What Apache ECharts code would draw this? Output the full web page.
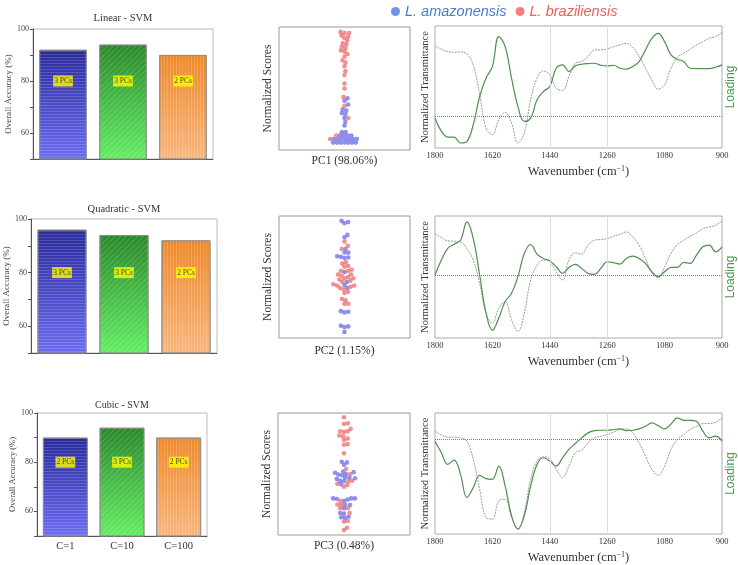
<!DOCTYPE html>
<html>
<head>
<meta charset="utf-8">
<title>SVM accuracy, PC scores and loadings</title>
<script src="https://cdn.jsdelivr.net/npm/echarts@6/dist/echarts.min.js"></script>
<style>html,body{margin:0;padding:0;background:#fff}#main{width:738px;height:565px}</style>
</head>
<body>
<div id="main"></div>
<script>
// ---- data ----
var categories = ['C=1', 'C=10', 'C=100'];
var accTicks = [60, 80, 100];
var modelTitles = ['Linear - SVM', 'Quadratic - SVM', 'Cubic - SVM'];
var linearAcc = [92, 94, 90];
var quadraticAcc = [96, 94, 92];
var cubicAcc = [90, 94, 90];
var linearPCs = ['3 PCs', '3 PCs', '2 PCs'];
var quadraticPCs = ['3 PCs', '3 PCs', '2 PCs'];
var cubicPCs = ['2 PCs', '3 PCs', '2 PCs'];

var pcNames = ['PC1 (98.06%)', 'PC2 (1.15%)', 'PC3 (0.48%)'];
// normalized scores (0 = bottom of box, 1 = top)
var pc1Amaz = [0.42, 0.40, 0.37, 0.33, 0.32, 0.30, 0.29, 0.26, 0.23, 0.20, 0.145, 0.145, 0.118, 0.118, 0.118, 0.118, 0.09, 0.09, 0.09, 0.09, 0.09, 0.09, 0.09, 0.06, 0.06, 0.06, 0.06, 0.06, 0.06, 0.06];
var pc1Braz = [0.96, 0.95, 0.95, 0.93, 0.92, 0.91, 0.89, 0.87, 0.86, 0.84, 0.83, 0.81, 0.80, 0.78, 0.76, 0.73, 0.71, 0.68, 0.64, 0.61, 0.54, 0.50, 0.43, 0.36, 0.26, 0.118, 0.09];
var pc2Amaz = [0.96, 0.95, 0.94, 0.845, 0.825, 0.73, 0.70, 0.70, 0.67, 0.665, 0.66, 0.655, 0.54, 0.46, 0.435, 0.41, 0.22, 0.215, 0.21, 0.10, 0.095, 0.09, 0.05];
var pc2Braz = [0.79, 0.755, 0.73, 0.62, 0.61, 0.59, 0.585, 0.56, 0.55, 0.55, 0.52, 0.52, 0.51, 0.50, 0.49, 0.49, 0.48, 0.47, 0.46, 0.44, 0.43, 0.43, 0.42, 0.41, 0.40, 0.38, 0.37, 0.32, 0.31, 0.28, 0.28];
var pc3Amaz = [0.60, 0.595, 0.575, 0.52, 0.515, 0.51, 0.50, 0.495, 0.49, 0.47, 0.47, 0.465, 0.46, 0.445, 0.44, 0.415, 0.30, 0.30, 0.30, 0.295, 0.29, 0.28, 0.25, 0.245, 0.22, 0.18, 0.175, 0.15, 0.145, 0.14];
var pc3Braz = [0.965, 0.915, 0.91, 0.87, 0.85, 0.85, 0.845, 0.815, 0.81, 0.79, 0.78, 0.745, 0.74, 0.67, 0.54, 0.50, 0.445, 0.44, 0.42, 0.41, 0.395, 0.28, 0.25, 0.25, 0.22, 0.22, 0.18, 0.115, 0.11, 0.06, 0.04];

var wavenumbers = [1800, 1780, 1760, 1740, 1720, 1700, 1680, 1660, 1640, 1620, 1600, 1580, 1560, 1540, 1520, 1500, 1480, 1460, 1440, 1420, 1400, 1380, 1360, 1340, 1320, 1300, 1280, 1260, 1240, 1220, 1200, 1180, 1160, 1140, 1120, 1100, 1080, 1060, 1040, 1020, 1000, 980, 960, 940, 920, 900];
var wnGridLines = [1440, 1260];
// mean spectra (arbitrary transmittance units) and PC loadings
var meanT1 = [307, 297, 290, 288, 289, 283, 250, 160, 60, 40, 85, 107, 75, 15, 45, 145, 210, 232, 220, 180, 173, 215, 255, 260, 275, 295, 295, 298, 305, 310, 315, 303, 275, 240, 205, 177, 190, 240, 273, 285, 297, 310, 320, 330, 335, 347];
var load1 = [-7, -47, -64, -64, -82, -77, -27, 58, 113, 148, 238, 208, 113, 28, -17, -7, 48, 73, 88, 143, 153, 133, 150, 155, 157, 158, 152, 150, 152, 143, 140, 148, 163, 198, 233, 248, 223, 183, 170, 163, 143, 142, 142, 142, 146, 153];
var meanT2 = [315, 303, 293, 292, 290, 270, 235, 165, 75, 45, 90, 110, 55, 20, 75, 175, 220, 235, 230, 200, 175, 235, 257, 253, 280, 295, 297, 300, 307, 313, 320, 305, 280, 240, 197, 182, 215, 255, 282, 295, 307, 317, 330, 335, 340, 353];
var load2 = [0, 45, 80, 93, 105, 160, 110, 0, -115, -167, -130, -80, -55, -5, 65, 92, 63, 50, 43, 25, 5, 23, 32, 20, 5, 2, 20, 40, 37, 33, 50, 57, 50, 35, 10, -5, 10, 23, 23, 38, 35, 60, 85, 90, 70, 85];
var meanT3 = [310, 299, 292, 292, 290, 280, 225, 135, 50, 45, 100, 105, 50, 15, 65, 165, 220, 233, 227, 195, 170, 205, 245, 253, 275, 290, 295, 300, 307, 315, 317, 305, 275, 235, 195, 177, 205, 255, 285, 300, 315, 325, 333, 333, 337, 350];
var load3 = [-7, -42, -77, -64, -107, -177, -147, -110, -120, -122, -82, -142, -232, -272, -232, -142, -77, -57, -67, -82, -57, -32, -14, 3, 18, 25, 26, 26, 28, 30, 25, 26, 30, 38, 48, 40, 30, 45, 63, 56, 56, 53, 23, 3, 8, -7];

// ---- layout / style ----
var SERIF = "'Liberation Serif', 'DejaVu Serif', serif";
var SANS = "'Liberation Sans', Arial, sans-serif";
var AMAZ = 'L. amazonensis', BRAZ = 'L. braziliensis';
var LABEL_Y = 80;

var barGrids = [
  { left: 33, top: 29, width: 180, height: 130 },
  { left: 31, top: 219, width: 186, height: 134 },
  { left: 37, top: 413, width: 170, height: 123 }
];
var titleOffset = [16, 15, 13];
var swarmGrids = [
  { left: 279, top: 27, width: 131, height: 123 },
  { left: 279, top: 216, width: 131, height: 122 },
  { left: 278, top: 413, width: 132, height: 122 }
];
var specGrids = [
  { left: 435, top: 26, width: 288, height: 122 },
  { left: 435, top: 216, width: 288, height: 122 },
  { left: 435, top: 413, width: 288, height: 122 }
];
var transRange = [[0, 367], [0, 368], [0, 365]];
var loadRange = [[-97, 270], [-190, 178], [-287, 78]];

var accs = [linearAcc, quadraticAcc, cubicAcc];
var pcs = [linearPCs, quadraticPCs, cubicPCs];
var swarms = [[pc1Amaz, pc1Braz], [pc2Amaz, pc2Braz], [pc3Amaz, pc3Braz]];
var spectra = [[meanT1, load1], [meanT2, load2], [meanT3, load3]];

function grad(top, bottom) {
  return new echarts.graphic.LinearGradient(0, 0, 0, 1, [
    { offset: 0, color: top }, { offset: 1, color: bottom }
  ]);
}
var barFill = [grad('#2a2a9c', '#6c6cf2'), grad('#2a882a', '#64ee64'), grad('#ee892a', '#f8b67e')];
var barDecal = [
  { symbol: 'rect', dashArrayX: [1, 0], dashArrayY: [1, 2], rotation: 0, color: 'rgba(255,255,255,0.16)' },
  { symbol: 'rect', dashArrayX: [1, 0], dashArrayY: [1, 3], rotation: -Math.PI / 4, color: 'rgba(255,255,255,0.16)' },
  { symbol: 'rect', dashArrayX: [1, 0], dashArrayY: [1, 2], rotation: Math.PI / 2, color: 'rgba(255,255,255,0.18)' }
];

// simple beeswarm layout: x offsets in pixels so dots of diameter d do not overlap
function beeswarm(amaz, braz, hPx, d) {
  var pts = amaz.map(function (v) { return { v: v, c: 0 }; })
    .concat(braz.map(function (v) { return { v: v, c: 1 }; }));
  pts.sort(function (a, b) { return a.v - b.v; });
  var placed = [];
  pts.forEach(function (p) {
    var y = p.v * hPx;
    var near = placed.filter(function (q) { return Math.abs(q.y - y) < d; });
    var cand = [0];
    near.forEach(function (q) {
      var dx = Math.sqrt(d * d - (q.y - y) * (q.y - y));
      cand.push(q.x + dx, q.x - dx);
    });
    cand.sort(function (a, b) { return Math.abs(a) - Math.abs(b); });
    for (var i = 0; i < cand.length; i++) {
      var ok = near.every(function (q) {
        return (cand[i] - q.x) * (cand[i] - q.x) + (q.y - y) * (q.y - y) >= d * d - 0.01;
      });
      if (ok) { p.x = cand[i]; break; }
    }
    p.y = y;
    placed.push(p);
  });
  return [
    placed.filter(function (p) { return p.c === 0; }).map(function (p) { return [p.x, p.v]; }),
    placed.filter(function (p) { return p.c === 1; }).map(function (p) { return [p.x, p.v]; })
  ];
}

var grids = [], xAxes = [], yAxes = [], series = [], titles = [];

// bar charts
barGrids.forEach(function (g, i) {
  grids.push(Object.assign({ show: true, backgroundColor: '#fff', borderColor: '#bbb', borderWidth: 1 }, g));
  titles.push({
    text: modelTitles[i], left: g.left + g.width / 2, top: g.top - titleOffset[i], textAlign: 'center', padding: 0,
    textStyle: { fontFamily: SERIF, fontSize: i === 2 ? 10 : 10.5, fontWeight: 'normal', color: '#333' }
  });
  xAxes.push({
    type: 'category', gridIndex: i, data: categories,
    axisLine: { lineStyle: { color: '#555' } },
    axisTick: { alignWithLabel: true, length: 3, lineStyle: { color: '#555' } },
    axisLabel: { show: i === 2, fontFamily: SERIF, fontSize: 10.5, color: '#333', margin: 5 }
  });
  yAxes.push({
    type: 'value', gridIndex: i, min: 50, max: 100, interval: 10,
    name: 'Overall Accuracy (%)', nameLocation: 'middle', nameGap: i === 1 ? 20 : 19,
    nameTextStyle: { fontFamily: SERIF, fontSize: i === 2 ? 8.5 : 9, color: '#444' },
    axisLine: { show: true, lineStyle: { color: '#555' } },
    axisTick: { show: true, length: 3, lineStyle: { color: '#555' } },
    splitLine: { show: false },
    axisLabel: {
      fontFamily: SERIF, fontSize: 8, color: '#444', margin: 4,
      formatter: function (v) { return accTicks.indexOf(v) >= 0 ? v : ''; }
    }
  });
  series.push({
    type: 'bar', xAxisIndex: i, yAxisIndex: i, barWidth: '79%',
    data: accs[i].map(function (v, j) {
      return { value: v, itemStyle: { color: barFill[j], decal: barDecal[j] } };
    }),
    itemStyle: { borderColor: '#8a8a8a', borderWidth: 0.8 }
  });
  series.push({
    type: 'scatter', xAxisIndex: i, yAxisIndex: i, symbolSize: 1, z: 5,
    itemStyle: { color: 'transparent' },
    label: {
      show: true, position: 'inside', backgroundColor: '#ffff00', color: '#222',
      fontFamily: SERIF, fontSize: 7.5, padding: [2, 1, 1, 1]
    },
    data: pcs[i].map(function (t, j) { return { value: [j, LABEL_Y], label: { formatter: t } }; })
  });
});

// swarm plots
swarmGrids.forEach(function (g, i) {
  var gi = 3 + i;
  grids.push(Object.assign({ show: true, backgroundColor: '#fff', borderColor: '#999', borderWidth: 1 }, g));
  xAxes.push({
    type: 'value', gridIndex: gi, min: -g.width / 2, max: g.width / 2,
    name: pcNames[i], nameLocation: 'middle', nameGap: i === 1 ? 7 : 5,
    nameTextStyle: { fontFamily: SERIF, fontSize: 11.5, color: '#333' },
    axisLine: { show: false }, axisTick: { show: false }, axisLabel: { show: false }, splitLine: { show: false }
  });
  yAxes.push({
    type: 'value', gridIndex: gi, min: 0, max: 1,
    name: 'Normalized Scores', nameLocation: 'middle', nameGap: 5,
    nameTextStyle: { fontFamily: SERIF, fontSize: 11.5, color: '#333' },
    axisLine: { show: false }, axisTick: { show: false }, axisLabel: { show: false }, splitLine: { show: false }
  });
  var sw = beeswarm(swarms[i][0], swarms[i][1], g.height, 3.8);
  series.push({
    type: 'scatter', name: AMAZ, xAxisIndex: gi, yAxisIndex: gi, symbolSize: 4.6,
    itemStyle: { color: '#7474e8' }, data: sw[0]
  });
  series.push({
    type: 'scatter', name: BRAZ, xAxisIndex: gi, yAxisIndex: gi, symbolSize: 4.6,
    itemStyle: { color: '#ec7474' }, data: sw[1]
  });
});

// spectra with loadings
specGrids.forEach(function (g, i) {
  var gi = 6 + i;
  grids.push(Object.assign({ show: true, backgroundColor: '#fff', borderColor: '#aaa', borderWidth: 1 }, g));
  xAxes.push({
    type: 'value', gridIndex: gi, min: 900, max: 1800, interval: 180, inverse: true,
    name: 'Wavenumber (cm{sup|\u22121})', nameLocation: 'middle', nameGap: 17,
    nameTextStyle: {
      fontFamily: SERIF, fontSize: 12.5, color: '#333',
      rich: { sup: { fontFamily: SERIF, fontSize: 8, color: '#333', verticalAlign: 'top', padding: [0, 0, 5, 0] } }
    },
    axisLine: { show: false }, axisTick: { show: false }, splitLine: { show: false },
    axisLabel: {
      fontFamily: SERIF, fontSize: 8.5, color: '#333', margin: 3,
      formatter: function (v) { return String(v); }
    }
  });
  yAxes.push({
    type: 'value', gridIndex: gi, min: transRange[i][0], max: transRange[i][1],
    name: 'Normalized Transmittance', nameLocation: 'middle', nameGap: 4,
    nameTextStyle: { fontFamily: SERIF, fontSize: 10.5, color: '#333' },
    axisLine: { show: false }, axisTick: { show: false }, axisLabel: { show: false }, splitLine: { show: false }
  });
  var mean = spectra[i][0];
  series.push({
    type: 'line', xAxisIndex: gi, yAxisIndex: gi, smooth: 0.4, showSymbol: false,
    lineStyle: { color: '#9a9a9a', width: 1, type: [2, 1] },
    data: wavenumbers.map(function (w, k) { return [w, mean[k]]; }),
    markLine: {
      silent: true, symbol: 'none', label: { show: false },
      lineStyle: { color: '#dcdcdc', type: 'solid', width: 1 },
      data: wnGridLines.map(function (w) { return { xAxis: w }; })
    }
  });
});
specGrids.forEach(function (g, i) {
  var gi = 6 + i;
  yAxes.push({
    type: 'value', gridIndex: gi, position: 'right', min: loadRange[i][0], max: loadRange[i][1],
    name: 'Loading', nameLocation: 'middle', nameGap: 3,
    nameTextStyle: { fontFamily: SANS, fontSize: 12, color: '#4a9a4a' },
    axisLine: { show: false }, axisTick: { show: false }, axisLabel: { show: false }, splitLine: { show: false }
  });
  var load = spectra[i][1];
  series.push({
    type: 'line', xAxisIndex: gi, yAxisIndex: 9 + i, smooth: 0.4, showSymbol: false,
    lineStyle: { color: '#4f8f4f', width: 1.2 },
    data: wavenumbers.map(function (w, k) { return [w, load[k]]; }),
    markLine: {
      silent: true, symbol: 'none', label: { show: false },
      lineStyle: { color: '#5f8f5f', type: 'dotted', width: 1 },
      data: [{ yAxis: 0 }]
    }
  });
});

var chart = echarts.init(document.getElementById('main'));
chart.setOption({
  animation: false,
  backgroundColor: '#fff',
  title: titles,
  legend: {
    top: -1, left: 386, itemGap: 9, itemWidth: 9, itemHeight: 9, icon: 'circle', selectedMode: false,
    textStyle: { fontFamily: SANS, fontSize: 14.5, fontStyle: 'italic' },
    data: [
      { name: AMAZ, textStyle: { color: '#4a7bd6' }, itemStyle: { color: '#4a7bd6' } },
      { name: BRAZ, textStyle: { color: '#f25c5c' }, itemStyle: { color: '#f25c5c' } }
    ]
  },
  grid: grids,
  xAxis: xAxes,
  yAxis: yAxes,
  series: series
});
</script>
</body>
</html>
